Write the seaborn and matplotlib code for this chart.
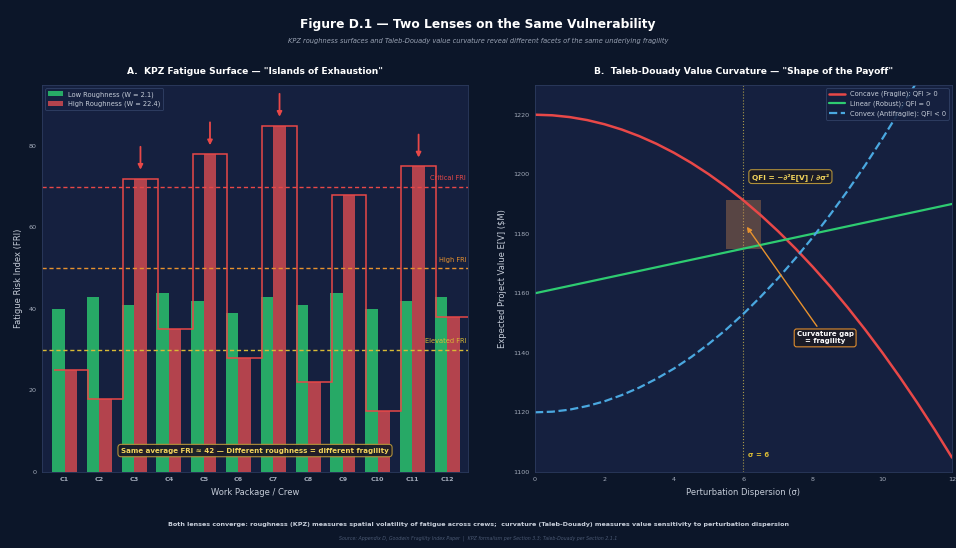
import numpy as np
import pandas as pd
import matplotlib
matplotlib.use("Agg")
import matplotlib.pyplot as plt
import seaborn as sns

# ---- Panel A data: fatigue risk index per crew ----
crews = [f"C{i}" for i in range(1, 13)]
low_fri = [40, 43, 41, 44, 42, 39, 43, 41, 44, 40, 42, 43]
high_fri = [25, 18, 72, 35, 78, 28, 85, 22, 68, 15, 75, 38]
low_label = "Low Roughness (W = 2.1)"
high_label = "High Roughness (W = 22.4)"
thresholds = [70, 50, 30]
threshold_labels = ["Critical FRI", "High FRI", "Elevated FRI"]
left_yticks = [0, 20, 40, 60, 80]

# ---- Panel B data: expected value vs perturbation dispersion ----
sigma = [0, 0.5, 1, 1.5, 2, 2.5, 3, 3.5, 4, 4.5, 5, 5.5, 6, 6.5, 7, 7.5, 8, 8.5,
         9, 9.5, 10, 10.5, 11, 11.5, 12]
concave = [1220, 1219.8, 1219.2, 1218.2, 1216.8, 1215, 1212.8, 1210.2, 1207.2,
           1203.8, 1200, 1195.8, 1191.2, 1186.2, 1180.8, 1175, 1168.8, 1162.2,
           1155.2, 1147.8, 1140, 1131.8, 1123.2, 1114.2, 1104.8]
linear = [1160, 1161.25, 1162.5, 1163.75, 1165, 1166.25, 1167.5, 1168.75, 1170,
          1171.25, 1172.5, 1173.75, 1175, 1176.25, 1177.5, 1178.75, 1180, 1181.25,
          1182.5, 1183.75, 1185, 1186.25, 1187.5, 1188.75, 1190]
convex = [1120, 1120.2, 1120.9, 1122.1, 1123.7, 1125.8, 1128.3, 1131.3, 1134.7,
          1138.6, 1143, 1147.8, 1153.1, 1158.9, 1165.1, 1171.8, 1178.9, 1186.5,
          1194.5, 1203, 1212, 1221.4, 1231.3, 1241.7, 1252.5]
curve_labels = ["Concave (Fragile): QFI > 0", "Linear (Robust): QFI = 0",
                "Convex (Antifragile): QFI < 0"]
sigma_focus = 6
gap_low, gap_high = 1175, 1191.2
right_xticks = [0, 2, 4, 6, 8, 10, 12]
right_yticks = [1100, 1120, 1140, 1160, 1180, 1200, 1220]

# ---- styling ----
FIG_BG = "#0c1629"
AX_BG = "#15203f"
SPINE = "#2c3b5e"
TXT = "#c5ccd8"
TICK = "#a3abba"
GREEN = "#27a966"
RED_BAR = "#b3434d"
RED = "#e84848"
ORANGE = "#e8922e"
YELLOW = "#d9bb35"
GOLD_TXT = "#f2d45c"
LINE_GREEN = "#2ecc71"
LINE_BLUE = "#4aa8e0"

sns.set_theme(style="dark")
plt.rcParams["font.family"] = ["DejaVu Sans"]

fig = plt.figure(figsize=(9.56, 5.48), dpi=100, facecolor=FIG_BG)
ax1 = fig.add_axes([0.044, 0.139, 0.4455, 0.706])
ax2 = fig.add_axes([0.5596, 0.139, 0.4362, 0.706])

for ax in (ax1, ax2):
    ax.set_facecolor(AX_BG)
    for sp in ax.spines.values():
        sp.set_color(SPINE)
        sp.set_linewidth(0.6)
    ax.tick_params(colors=TICK, labelsize=4.6, length=2, width=0.5, pad=2)
    ax.grid(False)

# ---- Panel A ----
df = pd.DataFrame({
    "crew": crews * 2,
    "fri": low_fri + high_fri,
    "series": [low_label] * len(crews) + [high_label] * len(crews),
})
sns.barplot(data=df, x="crew", y="fri", hue="series", palette=[GREEN, RED_BAR],
            width=0.72, saturation=1, ax=ax1, linewidth=0, errorbar=None)

half = 0.18
edges = np.arange(len(crews) + 1) - 0.5 + half
ax1.stairs(high_fri, edges, baseline=None, color=RED, lw=1.1, zorder=4)

for i, v in enumerate(high_fri):
    if v > thresholds[0]:
        ax1.annotate("", xy=(i + half, v + 1.5), xytext=(i + half, v + 8.5),
                     arrowprops=dict(arrowstyle="-|>", color=RED, lw=1.3,
                                     mutation_scale=7), zorder=5)

for t, lab, c in zip(thresholds, threshold_labels, [RED, ORANGE, YELLOW]):
    ax1.axhline(t, color=c, ls=(0, (3, 2)), lw=1.0, alpha=1.0, zorder=1)
    ax1.text(11.55, t + 1.4, lab, color=c, fontsize=4.8, ha="right", va="bottom")

ax1.set_xlim(-0.65, 11.6)
ax1.set_ylim(0, 95)
ax1.set_yticks(left_yticks)
ax1.set_xlabel("Work Package / Crew", color=TXT, fontsize=6, labelpad=4)
ax1.set_ylabel("Fatigue Risk Index (FRI)", color=TXT, fontsize=6, labelpad=4)
for lbl in ax1.get_xticklabels():
    lbl.set_fontweight("bold")
ax1.set_title('A.  KPZ Fatigue Surface — "Islands of Exhaustion"', color="white",
              fontsize=6.6, fontweight="bold", pad=8)
leg1 = ax1.legend(loc="upper left", fontsize=4.8, facecolor=AX_BG,
                  edgecolor="#34456a", labelcolor=TXT, framealpha=0.9,
                  handlelength=2.2, handleheight=0.9)
leg1.get_frame().set_linewidth(0.6)

ax1.text(0.5, 0.055, "Same average FRI ≈ 42 — Different roughness = different fragility",
         transform=ax1.transAxes, ha="center", va="center", fontsize=5.1,
         fontweight="bold", color=GOLD_TXT, zorder=6,
         bbox=dict(boxstyle="round,pad=0.45", facecolor="#1c1c26",
                   edgecolor="#b8963a", linewidth=0.8, alpha=0.95))

# ---- Panel B ----
sns.lineplot(x=sigma, y=concave, ax=ax2, color=RED, lw=1.8, label=curve_labels[0])
sns.lineplot(x=sigma, y=linear, ax=ax2, color=LINE_GREEN, lw=1.6, label=curve_labels[1])
sns.lineplot(x=sigma, y=convex, ax=ax2, color=LINE_BLUE, lw=1.6, ls="--",
             label=curve_labels[2])

ax2.axvline(sigma_focus, color="#a89a4a", ls=":", lw=0.8, zorder=1)
ax2.fill_between([sigma_focus - 0.5, sigma_focus + 0.5], gap_low, gap_high,
                 color="#c8824e", alpha=0.38, linewidth=0, zorder=1.5)

ax2.text(7.35, 1199.2, "QFI = −∂²E[V] / ∂σ²", ha="center", va="center",
         fontsize=5.3, fontweight="bold", color=GOLD_TXT,
         bbox=dict(boxstyle="round,pad=0.4", facecolor="#1c1c26",
                   edgecolor="#b8963a", linewidth=0.8, alpha=0.95))

ax2.annotate("Curvature gap\n= fragility", xy=(sigma_focus + 0.05, (gap_low + gap_high) / 2),
             xytext=(8.35, 1145), ha="center", va="center", fontsize=5,
             fontweight="bold", color="white", zorder=6,
             bbox=dict(boxstyle="round,pad=0.35", facecolor="#1c1c26",
                       edgecolor=ORANGE, linewidth=0.8, alpha=0.95),
             arrowprops=dict(arrowstyle="-|>", color=ORANGE, lw=1.0,
                             mutation_scale=7))

ax2.text(sigma_focus + 0.13, 1105.5, f"σ = {sigma_focus}", color=YELLOW,
         fontsize=5, fontweight="bold", ha="left", va="center")

ax2.set_xlim(0, 12)
ax2.set_ylim(1100, 1230)
ax2.set_xticks(right_xticks)
ax2.set_yticks(right_yticks)
ax2.set_xlabel("Perturbation Dispersion (σ)", color=TXT, fontsize=6, labelpad=4)
ax2.set_ylabel("Expected Project Value E[V] ($M)", color=TXT, fontsize=6, labelpad=4)
ax2.set_title('B.  Taleb-Douady Value Curvature — "Shape of the Payoff"', color="white",
              fontsize=6.6, fontweight="bold", pad=8)
leg2 = ax2.legend(loc="upper right", fontsize=4.8, facecolor=AX_BG,
                  edgecolor="#34456a", labelcolor=TXT, framealpha=0.9,
                  handlelength=2.4)
leg2.get_frame().set_linewidth(0.6)

# ---- figure texts ----
fig.text(0.5, 0.956, "Figure D.1 — Two Lenses on the Same Vulnerability",
         ha="center", va="center", color="white", fontsize=8.8, fontweight="bold")
fig.text(0.5, 0.925, "KPZ roughness surfaces and Taleb-Douady value curvature reveal "
         "different facets of the same underlying fragility",
         ha="center", va="center", color="#9aa3b4", fontsize=4.8, style="italic")
fig.text(0.5, 0.042, "Both lenses converge: roughness (KPZ) measures spatial volatility of "
         "fatigue across crews;  curvature (Taleb-Douady) measures value sensitivity "
         "to perturbation dispersion",
         ha="center", va="center", color="#c8cfdb", fontsize=4.6, fontweight="bold")
fig.text(0.5, 0.017, "Source: Appendix D, Goodwin Fragility Index Paper  |  KPZ formalism "
         "per Section 3.3; Taleb-Douady per Section 2.1.1",
         ha="center", va="center", color="#4a5872", fontsize=3.4, style="italic")

fig.savefig("out.png", dpi=100, facecolor=FIG_BG)
